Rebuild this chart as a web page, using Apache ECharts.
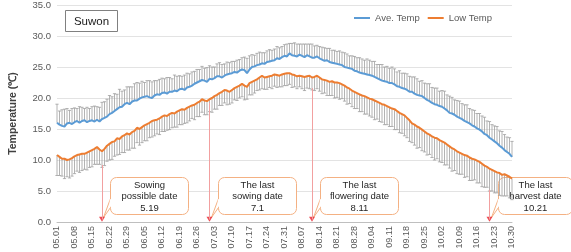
<!DOCTYPE html>
<html>
<head>
<meta charset="utf-8">
<script src="https://cdn.jsdelivr.net/npm/echarts@6/dist/echarts.min.js"></script>
<style>
  html, body { margin: 0; padding: 0; background: #fff; }
  #chartBox { width: 571px; height: 252px; }
</style>
</head>
<body>
<div id="chartBox"></div>
<script>
// daily dates 05.01 - 10.30
const monthDays = [[5, 31], [6, 30], [7, 31], [8, 31], [9, 30], [10, 30]]
const dates = []
monthDays.forEach(([m, n]) => {
  for (let d = 1; d <= n; d++) {
    dates.push(String(m).padStart(2, '0') + '.' + String(d).padStart(2, '0'))
  }
})

// 평균기온 (Ave. Temp)
const aveTemp = [
  16.0, 15.7, 15.5, 15.4, 15.9, 16.0, 15.8,
  16.1, 16.3, 16.0, 16.3, 16.4, 16.1, 16.3,
  16.4, 16.2, 16.5, 16.2, 16.6, 16.8, 17.0,
  17.4, 17.6, 17.9, 18.2, 18.5, 18.6, 19.0,
  19.2, 19.0, 19.4, 19.6, 19.6, 19.9, 20.1,
  20.2, 20.3, 20.1, 20.0, 20.4, 20.6, 20.5,
  20.8, 20.9, 20.7, 21.0, 21.0, 21.2, 21.1,
  21.4, 21.5, 21.3, 21.7, 21.8, 22.0, 22.3,
  22.5, 22.7, 22.9, 22.8, 22.6, 23.1, 23.0,
  23.2, 23.5, 23.5, 23.3, 23.6, 23.8, 23.9,
  24.0, 24.2, 24.1, 24.4, 24.6, 24.5, 24.0,
  24.6, 25.0, 25.1, 25.3, 25.4, 25.6, 25.5,
  25.8, 25.9, 26.0, 26.1, 26.4, 26.3, 26.6,
  26.8, 26.7, 27.2, 26.9, 26.8, 26.7, 27.0,
  26.8, 26.6, 26.9, 26.7, 26.5, 26.5, 26.7,
  26.4, 26.2, 26.0, 26.1, 25.8, 25.7, 25.6,
  25.5, 25.4, 25.3, 25.0, 24.9, 24.8, 24.7,
  24.4, 24.3, 24.1, 24.0, 23.9, 23.8, 23.7,
  23.6, 23.4, 23.2, 23.0, 22.8, 22.7, 22.6,
  22.4, 22.4, 22.2, 21.9, 21.8, 21.6, 21.5,
  21.3, 21.0, 21.0, 20.7, 20.5, 20.4, 20.3,
  20.0, 19.7, 19.5, 19.2, 19.0, 18.9, 18.7,
  18.6, 18.3, 18.0, 17.6, 17.5, 17.3, 17.0,
  16.8, 16.6, 16.3, 16.1, 15.9, 15.6, 15.4,
  15.1, 14.9, 14.6, 14.2, 14.0, 13.6, 13.3,
  13.0, 12.7, 12.3, 12.0, 11.6, 11.3, 11.0,
  10.5
]
// 최저기온 (Low Temp)
const lowTemp = [
  10.8, 10.5, 10.2, 10.2, 10.0, 10.1, 10.3,
  10.6, 10.8, 10.9, 11.0, 11.0, 11.2, 11.4,
  11.6, 11.8, 12.1, 11.7, 11.4, 11.8, 12.3,
  12.6, 12.9, 13.0, 13.5, 13.4, 13.8, 14.0,
  14.3, 14.1, 14.5, 14.7, 15.2, 15.0, 15.3,
  15.6, 15.8, 16.0, 16.3, 16.4, 16.5, 16.7,
  17.0, 17.2, 17.1, 17.4, 17.6, 17.5, 17.8,
  18.0, 18.2, 18.1, 18.4, 18.6, 18.8, 18.9,
  19.2, 19.4, 19.8, 19.6, 19.5, 19.8, 20.0,
  20.3, 20.5, 20.8, 21.0, 21.3, 21.2, 21.0,
  21.3, 21.6, 21.8, 22.0, 22.3, 22.0, 21.8,
  22.4, 22.6, 22.8, 23.0, 23.3, 23.6, 23.3,
  23.4, 23.5, 23.6, 23.8, 23.7, 23.6, 23.8,
  23.9, 24.0, 24.0, 23.8, 23.7, 23.5, 23.6,
  23.5, 23.4, 23.5, 23.6, 23.3, 23.4, 23.6,
  23.3, 23.0, 22.9, 22.8, 22.6, 22.7, 22.5,
  22.5, 22.4, 22.2, 22.0, 21.7, 21.5, 21.2,
  21.0, 20.8, 20.6, 20.4, 20.3, 20.1, 19.9,
  19.8, 19.6, 19.4, 19.2, 19.0, 18.9, 18.7,
  18.5, 18.3, 18.2, 17.9, 17.6, 17.4, 17.2,
  16.8, 16.4, 15.9, 15.7, 15.4, 15.2, 14.9,
  14.6, 14.3, 14.1, 13.8, 13.6, 13.5, 13.2,
  13.0, 12.8, 12.5, 12.2, 11.9, 11.7, 11.4,
  11.2, 11.0, 10.8, 10.7, 10.4, 10.2, 10.1,
  9.9, 9.7, 9.4, 9.1, 8.9, 8.6, 8.4,
  8.2, 8.0, 7.9, 7.6, 7.7, 7.5, 7.3,
  7.0
]
// 표준편차 (upper bar on Ave, lower bar on Low)
const aveErr = [
  3.0, 2.2, 2.6, 2.8, 2.4, 2.0, 2.5,
  2.3, 2.0, 2.6, 2.2, 1.9, 2.4, 2.0,
  2.2, 2.5, 2.1, 2.3, 2.7, 2.6, 2.8,
  3.0, 2.6, 2.8, 2.4, 2.9, 2.5, 2.3,
  2.6, 2.8, 2.4, 2.7, 2.9, 2.5, 2.6,
  2.3, 2.5, 2.7, 2.6, 2.4, 2.2, 2.5,
  2.4, 2.2, 2.6, 2.3, 2.1, 2.5, 2.4,
  2.2, 2.0, 2.4, 2.3, 2.1, 2.2, 2.0,
  2.1, 1.9, 2.2, 2.0, 2.3, 2.1, 2.0,
  1.8, 2.0, 2.2, 2.1, 1.9, 2.0, 1.8,
  1.9, 1.7, 2.0, 1.8, 1.9, 2.1, 2.4,
  2.2, 2.0, 1.8, 1.9, 2.0, 1.7, 1.8,
  1.8, 1.9, 1.7, 1.8, 1.9, 1.8, 1.7,
  1.8, 2.0, 1.6, 1.9, 2.1, 2.0, 1.7,
  1.9, 2.1, 1.8, 2.0, 2.2, 1.9, 1.8,
  1.9, 2.0, 2.1, 1.9, 2.2, 2.0, 2.1,
  2.0, 2.2, 2.1, 2.3, 2.2, 2.0, 2.1,
  2.3, 2.2, 2.4, 2.3, 2.2, 2.5, 2.4,
  2.3, 2.5, 2.2, 2.4, 2.6, 2.3, 2.5,
  2.4, 2.6, 2.5, 2.3, 2.6, 2.4, 2.5,
  2.6, 2.5, 2.4, 2.7, 2.6, 2.3, 2.5,
  2.4, 2.6, 2.8, 2.5, 2.6, 2.7, 2.4,
  2.6, 2.8, 2.5, 2.7, 2.6, 2.4, 2.6,
  2.7, 2.5, 2.6, 2.8, 2.4, 2.5, 2.6,
  2.4, 2.6, 2.5, 2.7, 2.3, 2.6, 2.4,
  2.5, 2.7, 2.4, 2.6, 2.5, 2.4, 2.6,
  2.5
]
const lowErr = [
  3.3, 3.0, 2.8, 3.2, 2.7, 3.0, 2.9,
  2.8, 2.6, 2.9, 2.7, 2.5, 2.8, 2.6,
  2.7, 2.5, 2.8, 2.4, 2.6, 2.7, 2.5,
  2.6, 2.8, 2.4, 2.7, 2.5, 2.6, 2.8,
  2.7, 2.5, 2.6, 2.8, 2.4, 2.6, 2.5,
  2.5, 2.7, 2.4, 2.6, 2.5, 2.3, 2.6,
  2.4, 2.6, 2.3, 2.5, 2.4, 2.2, 2.5,
  2.3, 2.5, 2.2, 2.4, 2.3, 2.1, 2.4,
  2.2, 2.4, 2.1, 2.3, 2.2, 2.0, 2.3,
  2.1, 2.3, 2.0, 2.2, 2.1, 2.3, 2.0,
  2.1, 1.9, 2.2, 2.0, 2.1, 2.3, 2.0,
  1.9, 2.1, 2.0, 1.8, 2.0, 2.1, 1.9,
  2.0, 1.8, 2.1, 1.9, 2.0, 1.8, 2.0,
  1.9, 2.0, 1.8, 2.1, 1.9, 2.0, 1.8,
  2.0, 2.2, 1.9, 2.1, 2.0, 2.2, 2.1,
  2.2, 2.3, 2.1, 2.4, 2.2, 2.3, 2.5,
  2.4, 2.6, 2.3, 2.5, 2.7, 2.4, 2.6,
  2.7, 2.5, 2.8, 2.6, 2.9, 2.7, 2.8,
  2.9, 3.1, 2.8, 3.0, 2.9, 3.2, 3.0,
  3.1, 2.9, 3.3, 3.0, 3.2, 3.1, 3.3,
  3.2, 3.4, 3.1, 3.3, 3.5, 3.2, 3.4,
  3.3, 3.5, 3.2, 3.4, 3.6, 3.3, 3.5,
  3.4, 3.6, 3.3, 3.5, 3.7, 3.4, 3.6,
  3.5, 3.3, 3.6, 3.4, 3.7, 3.5, 3.3,
  3.6, 3.4, 3.7, 3.5, 3.3, 3.6, 3.4,
  3.5, 3.3, 3.6, 3.4, 3.5, 3.3, 3.4,
  3.4
]

// 주요 일자 표시
const markDates = ['05.19', '07.01', '08.11', '10.21']
const markTops = [9.2, 19.2, 21.6, 5.2]
const markTexts = [
  'Sowing\npossible date\n5.19',
  'The last\nsowing date\n7.1',
  'The last\nflowering date\n8.11',
  'The last\nharvest date\n10.21'
]

const myChart = echarts.init(document.getElementById('chartBox'))

function errorBars (values, errs, dir) {
  return values.map((v, i) => [i, v, +(v + dir * errs[i]).toFixed(2)])
}

function renderErr (params, api) {
  const p1 = api.coord([api.value(0), api.value(1)])
  const p2 = api.coord([api.value(0), api.value(2)])
  const style = { stroke: '#a0a0a0', lineWidth: 0.8 }
  return {
    type: 'group',
    children: [
      { type: 'line', shape: { x1: p1[0], y1: p1[1], x2: p2[0], y2: p2[1] }, style },
      { type: 'line', shape: { x1: p2[0] - 1.6, y1: p2[1], x2: p2[0] + 1.6, y2: p2[1] }, style }
    ]
  }
}

myChart.setOption({
  animation: false,
  grid: { left: 53, right: 59, top: 5, bottom: 30 },
  legend: {
    top: 8,
    right: 74,
    itemWidth: 16,
    itemHeight: 2,
    itemGap: 8,
    icon: 'rect',
    textStyle: { fontSize: 9.5, color: '#595959', fontFamily: 'Liberation Sans' },
    data: ['Ave. Temp', 'Low Temp']
  },
  xAxis: {
    type: 'category',
    data: dates,
    boundaryGap: false,
    axisLine: { lineStyle: { color: '#bfbfbf' } },
    axisTick: { show: false },
    axisLabel: {
      interval: 6,
      rotate: 90,
      fontSize: 9,
      color: '#595959',
      margin: 4,
      fontFamily: 'Liberation Sans'
    }
  },
  yAxis: {
    type: 'value',
    min: 0,
    max: 35,
    interval: 5,
    name: 'Temperature (℃)',
    nameLocation: 'middle',
    nameGap: 38,
    nameTextStyle: { fontSize: 10.5, fontWeight: 'bold', color: '#404040', fontFamily: 'Liberation Sans' },
    axisLabel: {
      fontSize: 9.5,
      color: '#595959',
      margin: 6,
      fontFamily: 'Liberation Sans',
      formatter: v => v.toFixed(1)
    },
    splitLine: { lineStyle: { color: '#e3e3e3' } }
  },
  series: [
    {
      type: 'custom',
      name: 'aveErr',
      renderItem: renderErr,
      data: errorBars(aveTemp, aveErr, 1),
      encode: { x: 0, y: [1, 2] },
      z: 1,
      silent: true
    },
    {
      type: 'custom',
      name: 'lowErr',
      renderItem: renderErr,
      data: errorBars(lowTemp, lowErr, -1),
      encode: { x: 0, y: [1, 2] },
      z: 1,
      silent: true
    },
    {
      name: 'Ave. Temp',
      type: 'line',
      data: aveTemp,
      showSymbol: false,
      color: '#5b9bd5',
      lineStyle: { width: 2, color: '#5b9bd5' },
      z: 3
    },
    {
      name: 'Low Temp',
      type: 'line',
      data: lowTemp,
      showSymbol: false,
      color: '#ed7d31',
      lineStyle: { width: 2, color: '#ed7d31' },
      z: 3,
      markLine: {
        silent: true,
        symbol: 'none',
        label: { show: false },
        lineStyle: { color: '#f2a0a0', type: 'solid', width: 1 },
        data: markDates.map((d, i) => [
          { coord: [d, markTops[i]] },
          { coord: [d, 0.4] }
        ])
      }
    },
    {
      type: 'scatter',
      name: 'arrows',
      data: markDates.map(d => [d, 0.45]),
      symbol: 'triangle',
      symbolRotate: 180,
      symbolSize: [6, 5],
      itemStyle: { color: '#e8202a' },
      z: 4,
      silent: true
    }
  ]
})

// callout boxes next to each arrow
const callouts = markDates.map((d, i) => {
  const p = myChart.convertToPixel({ gridIndex: 0 }, [d, 0])
  const w = i === 3 ? 74 : 78
  const h = 37
  return {
    type: 'group',
    x: Math.round(p[0]) + 8.5,
    y: 177.5,
    z: 10,
    children: [
      {
        type: 'rect',
        shape: { x: 0, y: 0, width: w, height: h, r: 6 },
        style: { fill: '#fff', stroke: '#f4b183', lineWidth: 1 }
      },
      {
        type: 'polygon',
        shape: { points: [[0, h - 16], [-7, h + 3], [0, h - 7]] },
        style: { fill: '#fff', stroke: '#f4b183', lineWidth: 1 }
      },
      {
        type: 'line',
        shape: { x1: 0, y1: h - 15.3, x2: 0, y2: h - 7.7 },
        style: { stroke: '#fff', lineWidth: 1.5 }
      },
      {
        type: 'text',
        x: w / 2,
        y: h / 2 + 0.5,
        style: {
          text: markTexts[i],
          align: 'center',
          verticalAlign: 'middle',
          fontSize: 9.5,
          lineHeight: 11.5,
          fill: '#262626',
          fontFamily: 'Liberation Sans'
        }
      }
    ]
  }
})

myChart.setOption({
  graphic: [
    {
      type: 'group',
      x: 65.5,
      y: 10.5,
      children: [
        {
          type: 'rect',
          shape: { x: 0, y: 0, width: 52, height: 21 },
          style: { fill: '#fff', stroke: '#808080', lineWidth: 1 }
        },
        {
          type: 'text',
          x: 26,
          y: 11,
          style: {
            text: 'Suwon',
            align: 'center',
            verticalAlign: 'middle',
            fontSize: 11.5,
            fill: '#1a1a1a',
            fontFamily: 'Liberation Sans'
          }
        }
      ]
    }
  ].concat(callouts)
})
</script>
</body>
</html>
